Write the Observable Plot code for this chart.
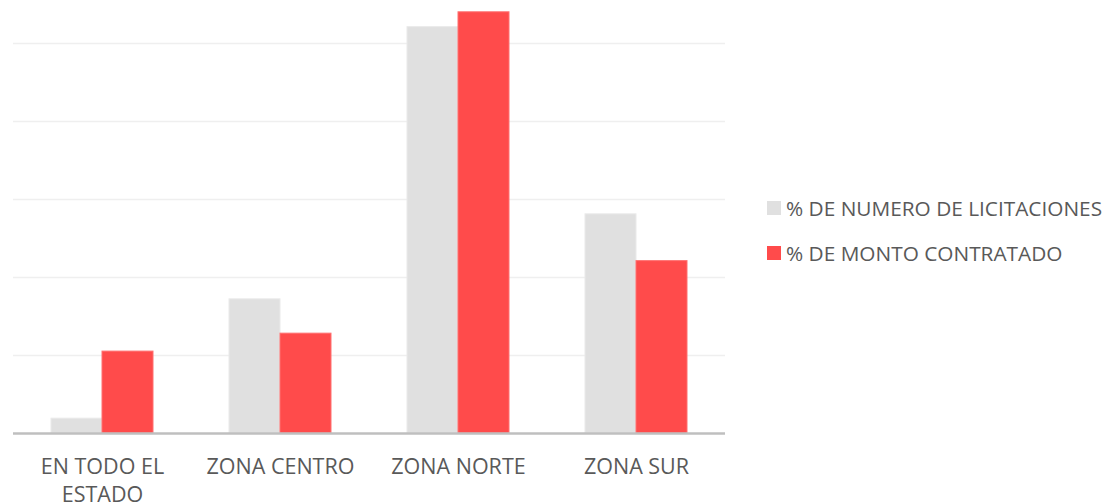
<!DOCTYPE html>
<html>
<head>
<meta charset="utf-8">
<script src="https://cdn.jsdelivr.net/npm/d3@7"></script>
<script src="https://cdn.jsdelivr.net/npm/@observablehq/plot@0.6"></script>
<style>
  body { margin: 0; background: #fff; font-family: "Open Sans", sans-serif; }
  #wrap { position: relative; width: 1105px; height: 502px; }
  #legend { position: absolute; left: 767px; top: 185px; color: #595959; font-size: 20.8px; white-space: nowrap; }
  .item { display: flex; align-items: center; height: 45px; }
  .sw { width: 14px; height: 14px; margin-right: 5px; flex: none; }
</style>
</head>
<body>
<div id="wrap"><div id="legend"></div></div>
<script>
const categories = ["EN TODO EL ESTADO", "ZONA CENTRO", "ZONA NORTE", "ZONA SUR"];
const tickLabels = ["EN TODO EL\nESTADO", "ZONA CENTRO", "ZONA NORTE", "ZONA SUR"];
const series = ["% DE NUMERO DE LICITACIONES", "% DE MONTO CONTRATADO"];
const licitaciones = [1.9, 17.2, 52.1, 28.1];
const monto = [10.5, 12.8, 54.0, 22.1];
const colors = ["#E0E0E0", "#FF4B4B"];
const gridTicks = [10, 20, 30, 40, 50];

const data = [];
categories.forEach((c, i) => {
  data.push({category: c, series: series[0], value: licitaciones[i]});
  data.push({category: c, series: series[1], value: monto[i]});
});

const chart = Plot.plot({
  width: 740,
  height: 502,
  marginLeft: 13,
  marginRight: 15,
  marginTop: 0,
  marginBottom: 69,
  style: {fontFamily: "'Open Sans', sans-serif", background: "transparent"},
  fx: {domain: categories, padding: 0, label: null},
  x: {domain: series, paddingInner: 0, paddingOuter: 0.745, axis: null},
  y: {domain: [0, 433 / 7.8], axis: null},
  color: {domain: series, range: colors},
  marks: [
    Plot.ruleY(gridTicks, {stroke: "#EFEFEF", strokeWidth: 1.5}),
    Plot.barY(data, {fx: "category", x: "series", y: "value", fill: "series", stroke: d => d.series === series[0] ? "#EAEAEA" : "#FF7070", strokeWidth: 1, inset: 0}),
    Plot.ruleY([0], {stroke: "#BFBFBF", strokeWidth: 2.5}),
    Plot.axisFx({anchor: "bottom", tickSize: 0, tickPadding: 21, fontSize: 21.5, fill: "#595959", lineHeight: 1.3, tickFormat: d => tickLabels[categories.indexOf(d)], label: null})
  ]
});
document.getElementById("wrap").prepend(chart);

const legend = document.getElementById("legend");
series.forEach((s, i) => {
  const item = document.createElement("div");
  item.className = "item";
  const sw = document.createElement("div");
  sw.className = "sw";
  sw.style.background = colors[i];
  const t = document.createElement("span");
  t.textContent = s;
  item.appendChild(sw);
  item.appendChild(t);
  legend.appendChild(item);
});
</script>
</body>
</html>
